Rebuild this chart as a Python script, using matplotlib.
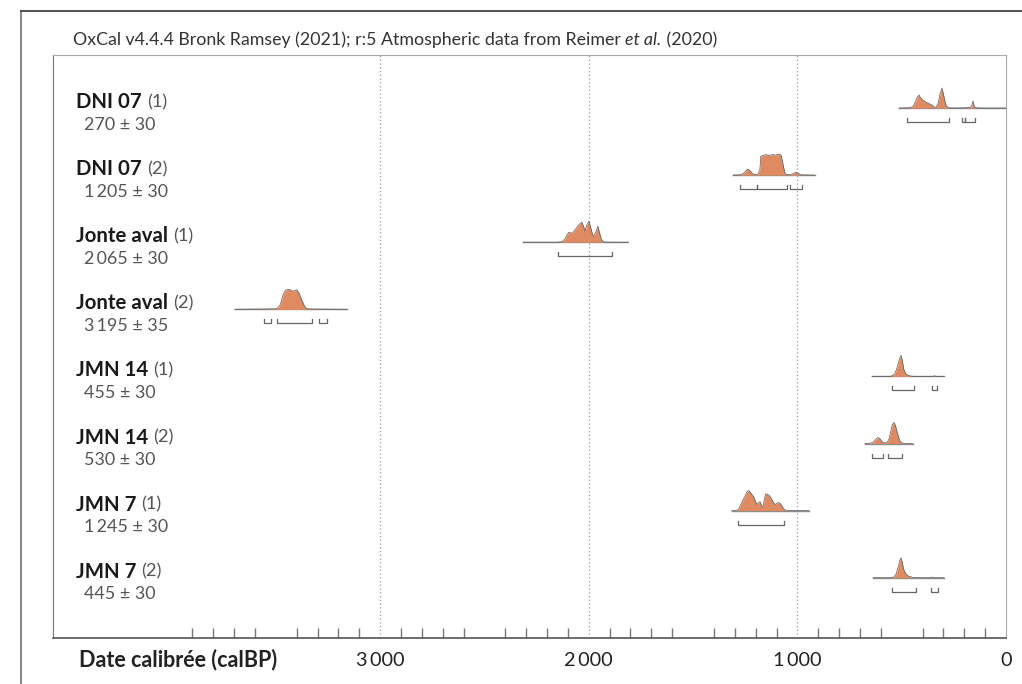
import matplotlib
matplotlib.use("Agg")
import matplotlib.pyplot as plt
from matplotlib.lines import Line2D
import matplotlib.ticker as mticker

plt.rcParams['font.family'] = ['Lato', 'DejaVu Sans']

W, H = 1022, 684

names = ['DNI 07', 'DNI 07', 'Jonte aval', 'Jonte aval', 'JMN 14', 'JMN 14', 'JMN 7', 'JMN 7']
runs = ['(1)', '(2)', '(1)', '(2)', '(1)', '(2)', '(1)', '(2)']
ages = ['270 ± 30', '1\u2009205 ± 30', '2\u2009065 ± 30', '3\u2009195 ± 35',
        '455 ± 30', '530 ± 30', '1\u2009245 ± 30', '445 ± 30']

# extent of the baseline of each distribution (calBP)
spans = [(513, 0), (1309, 916), (2315, 1812), (3696, 3159),
         (642, 297), (676, 446), (1314, 944), (637, 297)]

# probability curves (calBP, relative height)
dens_x = [
    [513, 460, 446, 435, 425, 417, 412, 400, 385, 370, 355, 345, 335, 325, 315, 307, 300, 290, 280, 270, 230, 200, 170, 163, 158, 154, 148, 130, 0],
    [1309, 1275, 1260, 1250, 1240, 1237, 1228, 1215, 1203, 1190, 1180, 1175, 1165, 1150, 1135, 1120, 1105, 1090, 1078, 1070, 1060, 1052, 1040, 1020, 1007, 995, 980, 916],
    [2315, 2150, 2128, 2115, 2105, 2095, 2085, 2075, 2060, 2045, 2033, 2025, 2018, 2010, 1999, 1990, 1982, 1975, 1965, 1956, 1948, 1938, 1927, 1900, 1812],
    [3696, 3560, 3500, 3490, 3478, 3466, 3455, 3442, 3430, 3418, 3408, 3399, 3388, 3375, 3362, 3351, 3330, 3159],
    [642, 560, 545, 532, 520, 510, 503, 497, 490, 480, 470, 460, 440, 350, 343, 335, 297],
    [676, 650, 635, 625, 614, 605, 595, 585, 570, 560, 550, 545, 537, 530, 520, 510, 499, 480, 446],
    [1314, 1290, 1280, 1265, 1250, 1240, 1232, 1225, 1218, 1210, 1200, 1194, 1186, 1179, 1172, 1165, 1158, 1151, 1144, 1136, 1125, 1115, 1107, 1098, 1088, 1078, 1068, 1059, 1040, 944],
    [637, 555, 540, 528, 518, 508, 503, 497, 490, 480, 470, 458, 446, 420, 365, 355, 345, 297],
]
dens_y = [
    [0, 0.3, 1.5, 6, 11, 13, 11, 8, 6, 4.5, 3, 1, 0.8, 5, 15, 20, 14, 4, 0.5, 0.1, 0, 0.2, 0.5, 3, 7, 3, 0.3, 0, 0],
    [0, 0.3, 1.5, 3.5, 6, 6, 4.5, 1.5, 0.5, 1, 5, 19, 19.5, 20.5, 19.5, 20.5, 20, 21, 20, 12, 2, 0.5, 0.3, 1.5, 3, 1.5, 0.2, 0],
    [0, 0, 0.5, 3, 7, 10, 9, 10, 14, 18, 20, 16, 11, 17, 21, 14, 8, 6, 11, 16, 9, 2, 0.3, 0, 0],
    [0, 0.3, 0.5, 1.5, 5, 14, 19, 20, 19.5, 18, 19, 19.5, 16, 9, 3, 0.5, 0.3, 0],
    [0, 0, 0.5, 3, 10, 18, 21, 16, 7, 2.5, 1.2, 0.4, 0, 0, 0.6, 0, 0],
    [0, 0.3, 1.5, 4, 6, 5, 2, 0.5, 1, 5, 14, 19, 21, 18, 10, 3, 0.5, 0, 0],
    [0, 0.3, 2, 9, 15, 19.5, 20, 18, 16, 14, 9, 6, 8, 9, 5, 3, 12, 17, 16, 15.5, 12, 8, 6, 7.5, 8, 6, 2.5, 0.5, 0, 0],
    [0, 0, 0.5, 3, 10, 18, 20, 15, 8, 4, 2, 1, 0.3, 0, 0, 0.6, 0, 0],
]

# 95.4 % ranges (calBP)
ranges = [
    [(475, 273), (212, 195), (195, 149)],
    [(1275, 1194), (1194, 1050), (1036, 978)],
    [(2148, 1888)],
    [(3557, 3524), (3495, 3327), (3293, 3255)],
    [(547, 441), (355, 331)],
    [(642, 590), (566, 499)],
    [(1285, 1064)],
    [(547, 431), (360, 326)],
]

fill_col = '#E08A62'
row_gap = 67.1
row0 = 53

fig = plt.figure(figsize=(W / 100, H / 100), dpi=100)
ax_l, ax_r, ax_t, ax_b = 53, 1006, 55, 638
ax = fig.add_axes([ax_l / W, 1 - ax_b / H, (ax_r - ax_l) / W, (ax_b - ax_t) / H])
ax.set_xlim(4568, 0)
ax.set_ylim(ax_b - ax_t, 0)

for gx in (3000, 2000, 1000):
    ax.axvline(gx, color='#999999', lw=0.9, ls=(0, (1, 2)), zorder=1)

for i in range(len(names)):
    base = row0 + i * row_gap
    ax.plot(spans[i], [base, base], color='#8c8c8c', lw=1.0, zorder=2)
    ys = [base - v for v in dens_y[i]]
    ax.fill_between(dens_x[i], base, ys, color=fill_col, lw=0, zorder=3)
    ax.plot(dens_x[i], ys, color='#5a5a5a', lw=0.5, zorder=4)
    by = base + 14
    for a, b in ranges[i]:
        ax.plot([a, a, b, b], [by - 4, by, by, by - 4], color='#666666', lw=0.9, zorder=3)

ax.xaxis.set_major_locator(mticker.FixedLocator([3500, 3000, 2500, 2000, 1500, 1000, 500, 0]))
ax.xaxis.set_major_formatter(mticker.FuncFormatter(
    lambda v, p: ('' if v % 1000 else ('0' if v == 0 else '{}\u2009000'.format(int(v // 1000))))))
ax.xaxis.set_minor_locator(mticker.FixedLocator([v for v in range(3900, 0, -100) if v % 500]))
ax.tick_params(axis='x', which='major', direction='in', length=15, width=1, color='#777777',
               labelsize=14.3, labelcolor='#222222', pad=10)
ax.tick_params(axis='x', which='minor', direction='in', length=7, width=1, color='#777777')
for t in ax.xaxis.get_major_ticks():
    if t.get_loc() % 1000 == 0:
        t.tick1line.set_visible(False)
ax.set_yticks([])
ax.spines['left'].set_color('#777777')
ax.spines['top'].set_color('#aaaaaa')
ax.spines['right'].set_color('#aaaaaa')
ax.spines['bottom'].set_color('#555555')
ax.spines['bottom'].set_linewidth(1.2)

# outer frame
fig.add_artist(Line2D([21 / W, 21 / W], [0, 1 - 11 / H], transform=fig.transFigure, color='#888888', lw=1.5))
fig.add_artist(Line2D([21 / W, 1], [1 - 11 / H, 1 - 11 / H], transform=fig.transFigure, color='#333333', lw=1.2))

renderer = fig.canvas.get_renderer()


def put_runs(x, y, pieces):
    for s, gap, kw in pieces:
        x += gap
        t = fig.text(x / W, 1 - y / H, s, va='center', ha='left', **kw)
        x += t.get_window_extent(renderer).width
    return x


put_runs(73, 40, [('OxCal v4.4.4 Bronk Ramsey (2021); r:5 Atmospheric data from Reimer ', 0, dict(size=12.8, color='#333333')),
                  ('et al.', 0, dict(size=12.8, color='#333333', style='italic')),
                  (' (2020)', 0, dict(size=12.8, color='#333333'))])

for i in range(len(names)):
    base = ax_t + row0 + i * row_gap
    put_runs(76, base - 6, [(names[i], 0, dict(size=14.7, weight='bold', color='#1a1a1a')),
                            (runs[i], 5, dict(size=13.2, color='#555555'))])
    fig.text(84 / W, 1 - (base + 16.5) / H, ages[i], va='center', ha='left', size=12.9, color='#555555')

fig.text(79 / W, 1 - 660 / H, 'Date calibrée (calBP)', va='center', ha='left', size=15.5,
         weight='bold', color='#222222')

fig.savefig('out.png', dpi=100)
